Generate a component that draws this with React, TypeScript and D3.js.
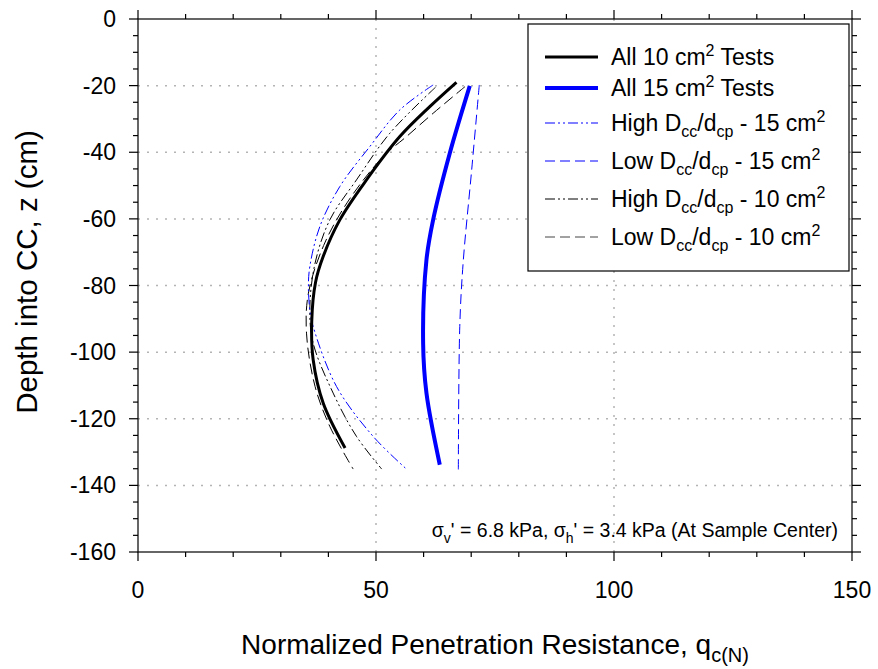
import React from "react";
import * as d3 from "d3";

type Pt = [number, number]; // [q, z]

const all10: Pt[] = [
  [66.9, -19], [61.3, -26.3], [55.0, -35.3], [48.0, -48.3], [42.4, -60.3],
  [38.9, -71.3], [37.3, -79], [36.5, -90.8], [36.8, -102.3], [38.9, -115.3], [43.5, -128.8],
];
const all15: Pt[] = [
  [69.7, -20.1], [65.5, -40.3], [62.0, -60.3], [60.6, -72.3], [59.9, -97.3],
  [60.6, -112.3], [63.4, -133.8],
];
const high15: Pt[] = [
  [62.0, -19.8], [55.0, -27.3], [48.7, -38.3], [42.4, -50.3], [38.2, -62.3],
  [36.1, -74.3], [35.8, -80.3], [36.1, -87.3], [36.8, -92.3], [41.7, -110.3],
  [49.4, -125.3], [56.4, -135.1],
];
const low15: Pt[] = [
  [71.7, -19.8], [70.1, -45.3], [68.3, -73.3], [67.6, -92.3], [67.3, -135.3],
];
const high10: Pt[] = [
  [62.5, -20.5], [52.9, -34.3], [45.9, -48.3], [40.3, -60.3], [37.2, -73.3],
  [36.1, -87], [36.8, -97.3], [41.0, -112.3], [45.9, -125.3], [51.2, -135.1],
];
const low10: Pt[] = [
  [68.7, -20.3], [62.0, -28.3], [56.4, -35.3], [51.5, -41.3], [44.0, -55],
  [39.0, -68], [35.8, -82.3], [35.4, -94.3], [37.2, -110.3], [40.3, -122.3], [45.2, -135.1],
];

const xTickLabels = [0, 50, 100, 150];
const yTickLabels = [0, -20, -40, -60, -80, -100, -120, -140, -160];

const W = 878, H = 669;
const X0 = 138, X1 = 852, Y0 = 19, Y1 = 552;

const FONT = "'Liberation Sans', Arial, sans-serif";

interface Series {
  data: Pt[];
  color: string;
  width: number;
  dash: string | null;
}

const series: Series[] = [
  { data: low10, color: "#000", width: 1, dash: "11,5" },
  { data: high10, color: "#000", width: 1, dash: "10,3,2,3,2,3" },
  { data: low15, color: "#0000ff", width: 1, dash: "10,5" },
  { data: high15, color: "#0000ff", width: 1, dash: "10,3,2,3,2,3" },
  { data: all10, color: "#000", width: 3, dash: null },
  { data: all15, color: "#0000ff", width: 4, dash: null },
];

export default function App() {
  const x = d3.scaleLinear().domain([0, 150]).range([X0, X1]);
  const y = d3.scaleLinear().domain([0, -160]).range([Y0, Y1]);
  const line = d3
    .line<Pt>()
    .x((d) => x(d[0]))
    .y((d) => y(d[1]))
    .curve(d3.curveCatmullRom.alpha(0.5));

  const xMinor = d3.range(0, 151, 10);
  const yMinor = d3.range(0, -161, -5);
  const xGrid = [50, 100];
  const yGrid = d3.range(-20, -141, -20);

  const legendRows = [
    { y: 57, color: "#000", width: 3, dash: null as string | null, kind: "all10" },
    { y: 88, color: "#0000ff", width: 4, dash: null, kind: "all15" },
    { y: 123, color: "#0000ff", width: 1, dash: "10,3,2,3,2,3", kind: "high15" },
    { y: 161, color: "#0000ff", width: 1, dash: "10,5", kind: "low15" },
    { y: 199, color: "#000", width: 1, dash: "10,3,2,3,2,3", kind: "high10" },
    { y: 237, color: "#444", width: 1, dash: "10,5", kind: "low10" },
  ];

  const legendText = (kind: string) => {
    const sub = { fontSize: 16 };
    switch (kind) {
      case "all10":
        return (<>All 10 cm<tspan dy={-9} style={sub}>2</tspan><tspan dy={9}> Tests</tspan></>);
      case "all15":
        return (<>All 15 cm<tspan dy={-9} style={sub}>2</tspan><tspan dy={9}> Tests</tspan></>);
      default: {
        const hl = kind.startsWith("high") ? "High" : "Low";
        const a = kind.endsWith("15") ? "15" : "10";
        return (
          <>
            {hl} D<tspan dy={6} style={sub}>cc</tspan>
            <tspan dy={-6}>/d</tspan>
            <tspan dy={6} style={sub}>cp</tspan>
            <tspan dy={-6}> - {a} cm</tspan>
            <tspan dy={-9} style={sub}>2</tspan>
          </>
        );
      }
    }
  };

  return (
    <svg width={W} height={H} style={{ display: "block", position: "absolute", left: 0, top: 0 }} fontFamily={FONT}>
      <rect x={0} y={0} width={W} height={H} fill="#fff" />
      {xGrid.map((v) => (
        <line key={"gx" + v} x1={x(v)} x2={x(v)} y1={Y0} y2={Y1} stroke="#b4b4b4" strokeWidth={1.5} strokeDasharray="2,7" />
      ))}
      {yGrid.map((v) => (
        <line key={"gy" + v} x1={X0} x2={X1} y1={y(v)} y2={y(v)} stroke="#b4b4b4" strokeWidth={1.5} strokeDasharray="2,7" />
      ))}
      {series.map((s, i) => (
        <path key={i} d={line(s.data) || ""} fill="none" stroke={s.color} strokeWidth={s.width}
          strokeDasharray={s.dash || undefined} strokeLinecap="butt" />
      ))}
      <rect x={X0} y={Y0} width={X1 - X0} height={Y1 - Y0} fill="none" stroke="#000" strokeWidth={1.2} />
      {xMinor.map((v) => {
        const len = v % 50 === 0 ? 9 : 5;
        return (
          <g key={"xt" + v}>
            <line x1={x(v)} x2={x(v)} y1={Y1} y2={Y1 + len} stroke="#000" strokeWidth={1.2} />
            <line x1={x(v)} x2={x(v)} y1={Y0} y2={Y0 - len} stroke="#000" strokeWidth={1.2} />
          </g>
        );
      })}
      {yMinor.map((v) => {
        const len = v % 20 === 0 ? 9 : 5;
        return (
          <g key={"yt" + v}>
            <line x1={X0} x2={X0 - len} y1={y(v)} y2={y(v)} stroke="#000" strokeWidth={1.2} />
            <line x1={X1} x2={X1 + len} y1={y(v)} y2={y(v)} stroke="#000" strokeWidth={1.2} />
          </g>
        );
      })}
      {xTickLabels.map((v) => (
        <text key={"xl" + v} x={x(v)} y={598} textAnchor="middle" fontSize={23}>{v}</text>
      ))}
      {yTickLabels.map((v) => (
        <text key={"yl" + v} x={116} y={y(v) + 8} textAnchor="end" fontSize={23}>{v}</text>
      ))}
      <text x={495} y={654} textAnchor="middle" fontSize={28}>
        Normalized Penetration Resistance, q<tspan dy={8} fontSize={20}>c(N)</tspan>
      </text>
      <text transform={`translate(37,272) rotate(-90)`} textAnchor="middle" fontSize={29.5}>
        Depth into CC, z (cm)
      </text>
      <text x={838} y={537} textAnchor="end" fontSize={19.5}>
        σ<tspan dy={6} fontSize={14}>v</tspan><tspan dy={-6}>' = 6.8 kPa, σ</tspan>
        <tspan dy={6} fontSize={14}>h</tspan><tspan dy={-6}>' = 3.4 kPa (At Sample Center)</tspan>
      </text>
      <rect x={528} y={24} width={321} height={247} fill="#fff" stroke="#000" strokeWidth={1.2} />
      {legendRows.map((r) => (
        <g key={r.kind}>
          <line x1={545} x2={598} y1={r.y} y2={r.y} stroke={r.color} strokeWidth={r.width}
            strokeDasharray={r.dash || undefined} />
          <text x={611} y={r.y + 8} fontSize={23}>{legendText(r.kind)}</text>
        </g>
      ))}
    </svg>
  );
}
